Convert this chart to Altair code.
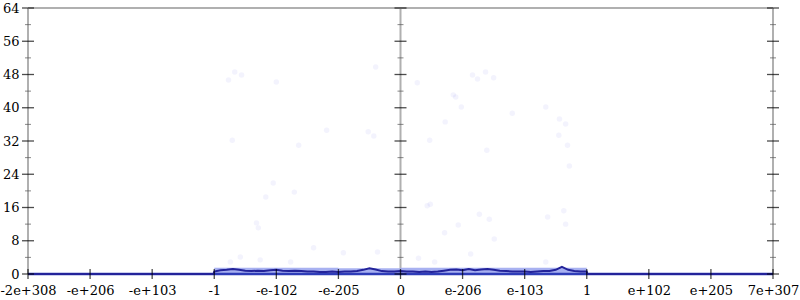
import altair as alt
import pandas as pd

# x axis: evenly spaced "float space" positions, index -6..6
tick_pos = list(range(-6, 7))
tick_labels = ["-2e+308", "-e+206", "-e+103", "-1", "-e-102", "-e-205", "0",
               "e-206", "e-103", "1", "e+102", "e+205", "7e+307"]

# histogram line (value counts) across the float space
line_x = [-6, -3.01] + [round(-3 + 0.1 * i, 1) for i in range(61)] + [3.01, 6]
line_y = [0, 0,
          0.6, 0.9, 1.0, 1.2, 1.0, 0.8, 0.7, 0.8, 0.7, 0.9,
          1.0, 0.8, 0.7, 0.8, 0.7, 0.6, 0.6, 0.5, 0.5, 0.6,
          0.5, 0.6, 0.6, 0.7, 1.0, 1.4, 1.1, 0.7, 0.6, 0.6,
          0.7, 0.6, 0.6, 0.5, 0.6, 0.5, 0.6, 0.8, 1.0, 1.1,
          0.9, 1.2, 0.9, 1.1, 1.2, 1.0, 0.8, 0.7, 0.6, 0.6,
          0.6, 0.5, 0.6, 0.7, 0.7, 1.0, 1.7, 1.0, 0.7, 0.6,
          0.6,
          0, 0]

# dense band of samples near the bottom
band_x = [-3, -2, -1, 0, 1, 2, 3]
band_top = [1.5, 1.5, 1.4, 1.5, 1.5, 1.5, 1.5]

# faint scattered samples
pts_x = [-0.40, -2.67, -2.56, -2.77, -2.00, -1.19, -0.52, -0.43, -2.71, -1.64,
         -2.05, -1.71, -2.17, -2.32, -2.29, -1.40, -0.92, -0.37, -2.58, -1.77,
         -2.74, -2.26,
         1.37, 1.16, 1.24, 1.50, 0.27, 0.85, 0.89, 0.98, 1.80, 2.34,
         2.56, 2.66, 2.55, 2.69, 1.39, 0.72, 0.47, 2.72, 0.43, 0.48,
         1.27, 1.43, 2.37, 2.63, 2.66, 0.93, 0.71, 1.51, 0.29, 0.55,
         1.13, 2.34]
pts_y = [49.8, 48.6, 47.9, 46.7, 46.2, 34.6, 34.2, 33.2, 32.2, 31.0,
         21.9, 19.7, 18.5, 12.3, 11.1, 6.3, 5.1, 5.3, 4.1, 2.9,
         2.9, 3.4,
         48.6, 47.9, 46.9, 47.2, 46.0, 43.1, 42.6, 40.2, 38.7, 40.2,
         37.3, 36.1, 33.4, 31.0, 29.8, 36.6, 32.2, 26.0, 16.4, 16.8,
         14.4, 13.2, 13.7, 15.2, 12.0, 11.8, 9.9, 8.4, 3.8, 2.9,
         4.8, 2.9]

y_major = list(range(0, 65, 8))
y_minor = list(range(4, 64, 8))
frame_x = [-6, 0, 6]

label_expr = "[" + ",".join("'%s'" % t for t in tick_labels) + "][datum.value + 6]"

xs = alt.Scale(domain=[-6, 6], nice=False, zero=False)
ys = alt.Scale(domain=[0, 64], nice=False)

FONT = "DejaVu Serif"

x_axis = alt.Axis(values=tick_pos, labelExpr=label_expr, ticks=False, domain=False,
                  grid=False, labelPadding=10, title=None, labelFlush=False,
                  labelOverlap=False)
y_axis = alt.Axis(values=y_major, ticks=False, domain=False, grid=False,
                  labelPadding=9, title=None, labelOverlap=False)


def X(f):
    return alt.X(f, type="quantitative", scale=xs, axis=x_axis)


def Y(f):
    return alt.Y(f, type="quantitative", scale=ys, axis=y_axis)


line_df = pd.DataFrame({"x": line_x, "y": line_y})
band_df = pd.DataFrame({"x": band_x, "top": band_top})
pts_df = pd.DataFrame({"x": pts_x, "y": pts_y})
frame_df = pd.DataFrame({"x": frame_x, "y0": [0] * 3, "y1": [64] * 3})
top_df = pd.DataFrame({"y": [64]})
base_df = pd.DataFrame({"y": [0]})
ymaj_df = pd.DataFrame([{"x": fx, "y": yv} for fx in frame_x for yv in y_major])
ymin_df = pd.DataFrame([{"x": fx, "y": yv} for fx in frame_x for yv in y_minor])
xt_df = pd.DataFrame({"x": tick_pos, "y": [0] * len(tick_pos)})

frame = alt.Chart(frame_df).mark_rule(color="#b0b0b0", strokeWidth=2).encode(
    x=X("x"), y=Y("y0"), y2="y1:Q")

top = alt.Chart(top_df).mark_rule(color="#b0b0b0", strokeWidth=2).encode(
    y=Y("y"), x=alt.value(0), x2=alt.value(745))

pts = alt.Chart(pts_df).mark_circle(color="#5050e0", opacity=0.07, size=30).encode(
    x=X("x"), y=Y("y"))

band = alt.Chart(band_df).mark_area(color="#9ea8ef", opacity=0.9, interpolate="step-after").encode(
    x=X("x"), y=Y("top"), y2=alt.datum(0))

base = alt.Chart(base_df).mark_rule(color="#2e3cb8", strokeWidth=2.5).encode(
    y=Y("y"), x=alt.value(0), x2=alt.value(745))

line = alt.Chart(line_df).mark_line(color="#23239a", strokeWidth=2).encode(
    x=X("x"), y=Y("y"))

ymaj = alt.Chart(ymaj_df).mark_tick(color="black", size=12, thickness=1.3, orient="horizontal").encode(
    x=X("x"), y=Y("y"))
ymin = alt.Chart(ymin_df).mark_tick(color="#555555", size=6, thickness=1, orient="horizontal").encode(
    x=X("x"), y=Y("y"))
xt = alt.Chart(xt_df).mark_tick(color="black", size=10, thickness=1.3, orient="vertical").encode(
    x=X("x"), y=Y("y"))

chart = alt.layer(frame, top, pts, band, base, line, ymaj, ymin, xt).properties(
    width=745, height=266,
    autosize=alt.AutoSizeParams(type="none"),
    padding={"left": 28, "top": 8, "right": 27, "bottom": 26},
).configure_view(stroke=None).configure(background="white").configure_axis(
    labelOverlap=False, labelFont=FONT, labelFontSize=13, labelColor="black",
    labelBound=False,
)

chart.save("out.html", embed_options={"renderer": "svg", "actions": False})
